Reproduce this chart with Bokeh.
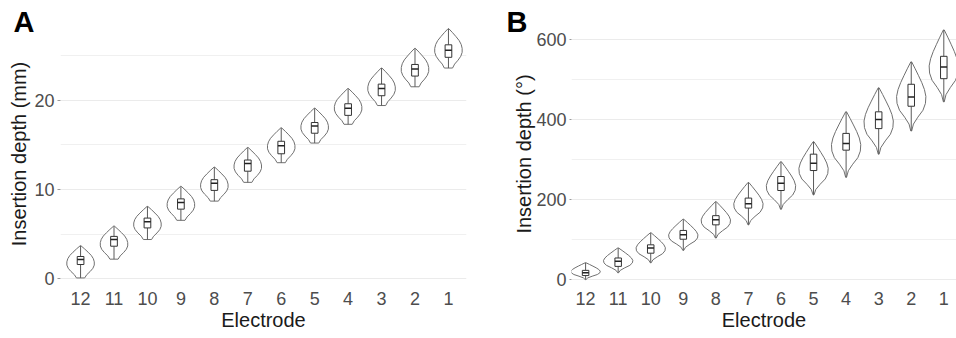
import numpy as np
from bokeh.plotting import figure
from bokeh.layouts import row
from bokeh.models import Range1d, FixedTicker, Label
from bokeh.embed import file_html
from bokeh.resources import INLINE

# ---------------- data ----------------
electrodes = ["12", "11", "10", "9", "8", "7", "6", "5", "4", "3", "2", "1"]

# Panel A: insertion depth (mm)
a_min = [0.1, 2.2, 4.4, 6.55, 8.7, 10.8, 13.0, 15.2, 17.3, 19.4, 21.5, 23.6]
a_max = [3.7, 5.9, 8.1, 10.35, 12.5, 14.7, 16.9, 19.1, 21.3, 23.6, 25.8, 28.0]
a_q1 = [1.6, 3.65, 5.7, 7.8, 9.9, 12.05, 14.0, 16.3, 18.3, 20.5, 22.7, 24.8]
a_med = [2.15, 4.4, 6.4, 8.55, 10.7, 12.9, 14.9, 17.1, 19.1, 21.3, 23.5, 25.6]
a_q3 = [2.5, 4.75, 6.8, 8.95, 11.1, 13.3, 15.4, 17.5, 19.6, 21.8, 24.0, 26.2]

# Panel B: insertion depth (degrees)
b_min = [0, 17, 42, 73, 104, 137, 176, 212, 256, 314, 372, 445]
b_max = [42, 79, 117, 151, 195, 243, 295, 345, 420, 480, 545, 625]
b_q1 = [10, 33, 66, 101, 137, 179, 223, 273, 324, 378, 434, 503]
b_med = [17, 46, 79, 112, 150, 190, 241, 291, 341, 401, 457, 532]
b_q3 = [23, 54, 87, 123, 160, 204, 258, 314, 366, 420, 489, 559]

# violin outline: relative half-width from bottom (0) to top (1)
profile_a = [0.3, 0.45, 0.7, 0.9, 1.0, 1.0, 0.93, 0.78, 0.55, 0.3, 0.03]
profile_b = [0.03, 0.15, 0.45, 0.8, 0.97, 1.0, 0.9, 0.72, 0.5, 0.27, 0.03]

a_ticks = [0, 10, 20]
a_minor = [5, 15, 25]
b_ticks = [0, 200, 400, 600]
b_minor = [100, 300, 500]

FONT = "Liberation Sans"
BOX_W = 0.2
H = 333


def make_panel(ylabel, vmin, vmax, q1, med, q3, profile, violin_w, xr, yr,
               ticks, minor, width, min_left, min_right, tick_out, lab_off, title_off):
    p = figure(width=width, height=H, output_backend="svg",
               toolbar_location=None, x_range=Range1d(*xr), y_range=Range1d(*yr),
               min_border_left=min_left, min_border_right=min_right,
               min_border_top=16, min_border_bottom=41)
    p.outline_line_color = None
    p.background_fill_color = "white"
    p.border_fill_color = "white"

    xs_pos = list(range(1, len(electrodes) + 1))
    frac = np.linspace(0, 1, len(profile))
    prof = np.array(profile)
    vx, vy = [], []
    for x, lo, hi in zip(xs_pos, vmin, vmax):
        y = lo + frac * (hi - lo)
        half = violin_w / 2 * prof
        vx.append(list(x - half) + list((x + half)[::-1]))
        vy.append(list(y) + list(y[::-1]))
    p.patches(vx, vy, fill_color="white", line_color="#707070", line_width=1)

    p.segment(xs_pos, vmin, xs_pos, q1, line_color="#5a5a5a", line_width=1)
    p.segment(xs_pos, q3, xs_pos, vmax, line_color="#5a5a5a", line_width=1)
    p.quad(left=[x - BOX_W / 2 for x in xs_pos], right=[x + BOX_W / 2 for x in xs_pos],
           bottom=q1, top=q3, fill_color="white", line_color="#333333", line_width=1)
    p.segment([x - BOX_W / 2 for x in xs_pos], med, [x + BOX_W / 2 for x in xs_pos], med,
              line_color="#222222", line_width=1.5)

    p.xaxis.ticker = FixedTicker(ticks=xs_pos)
    p.xaxis.major_label_overrides = {x: e for x, e in zip(xs_pos, electrodes)}
    p.xaxis.axis_label = "Electrode"
    p.xaxis.major_tick_out = 0
    p.xaxis.major_tick_in = 0
    p.xaxis.major_label_standoff = 0
    p.xaxis.axis_label_standoff = 1
    p.xaxis.minor_tick_line_color = None

    p.yaxis.ticker = FixedTicker(ticks=ticks, minor_ticks=minor)
    p.yaxis.axis_label = ylabel
    p.yaxis.major_tick_out = tick_out
    p.yaxis.major_tick_in = 0
    p.yaxis.major_tick_line_color = "#9a9a9a"
    p.yaxis.minor_tick_line_color = None
    p.yaxis.major_label_standoff = lab_off
    p.yaxis.axis_label_standoff = title_off

    for ax in (p.xaxis, p.yaxis):
        ax.axis_line_color = None
        ax.major_label_text_font = FONT
        ax.major_label_text_font_size = "18px"
        ax.major_label_text_color = "#4d4d4d"
        ax.axis_label_text_font = FONT
        ax.axis_label_text_font_size = "20px"
        ax.axis_label_text_font_style = "normal"
        ax.axis_label_text_color = "#1a1a1a"

    p.xgrid.grid_line_color = None
    p.ygrid.grid_line_color = "#ebebeb"
    p.ygrid.grid_line_width = 1
    p.ygrid.minor_grid_line_color = "#f0f0f0"
    p.ygrid.minor_grid_line_width = 1
    return p


pa = make_panel("Insertion depth (mm)", a_min, a_max, a_q1, a_med, a_q3, profile_a, 0.82,
                (0.4, 12.54), (-1.42, 29.37), a_ticks, a_minor, 489, 60, 23, 3, 2, 1)
pb = make_panel("Insertion depth (°)", b_min, b_max, b_q1, b_med, b_q3, profile_b, 0.9,
                (0.567, 12.39), (-29.9, 658.7), b_ticks, b_minor, 467, 79, 0, 2, 1, -2)

# panel letters (placed in side panels so they are not clipped to the frame)
pa.add_layout(Label(x=13 - 466, y=270, x_units="screen", y_units="screen", text="A",
                    text_font=FONT, text_font_size="29px", text_font_style="bold",
                    text_color="black", text_baseline="alphabetic"), "right")
pb.add_layout(Label(x=17, y=270, x_units="screen", y_units="screen", text="B",
                    text_font=FONT, text_font_size="29px", text_font_style="bold",
                    text_color="black", text_baseline="alphabetic"), "left")

layout = row(pa, pb)
open("out.html", "w").write(file_html(layout, INLINE))
